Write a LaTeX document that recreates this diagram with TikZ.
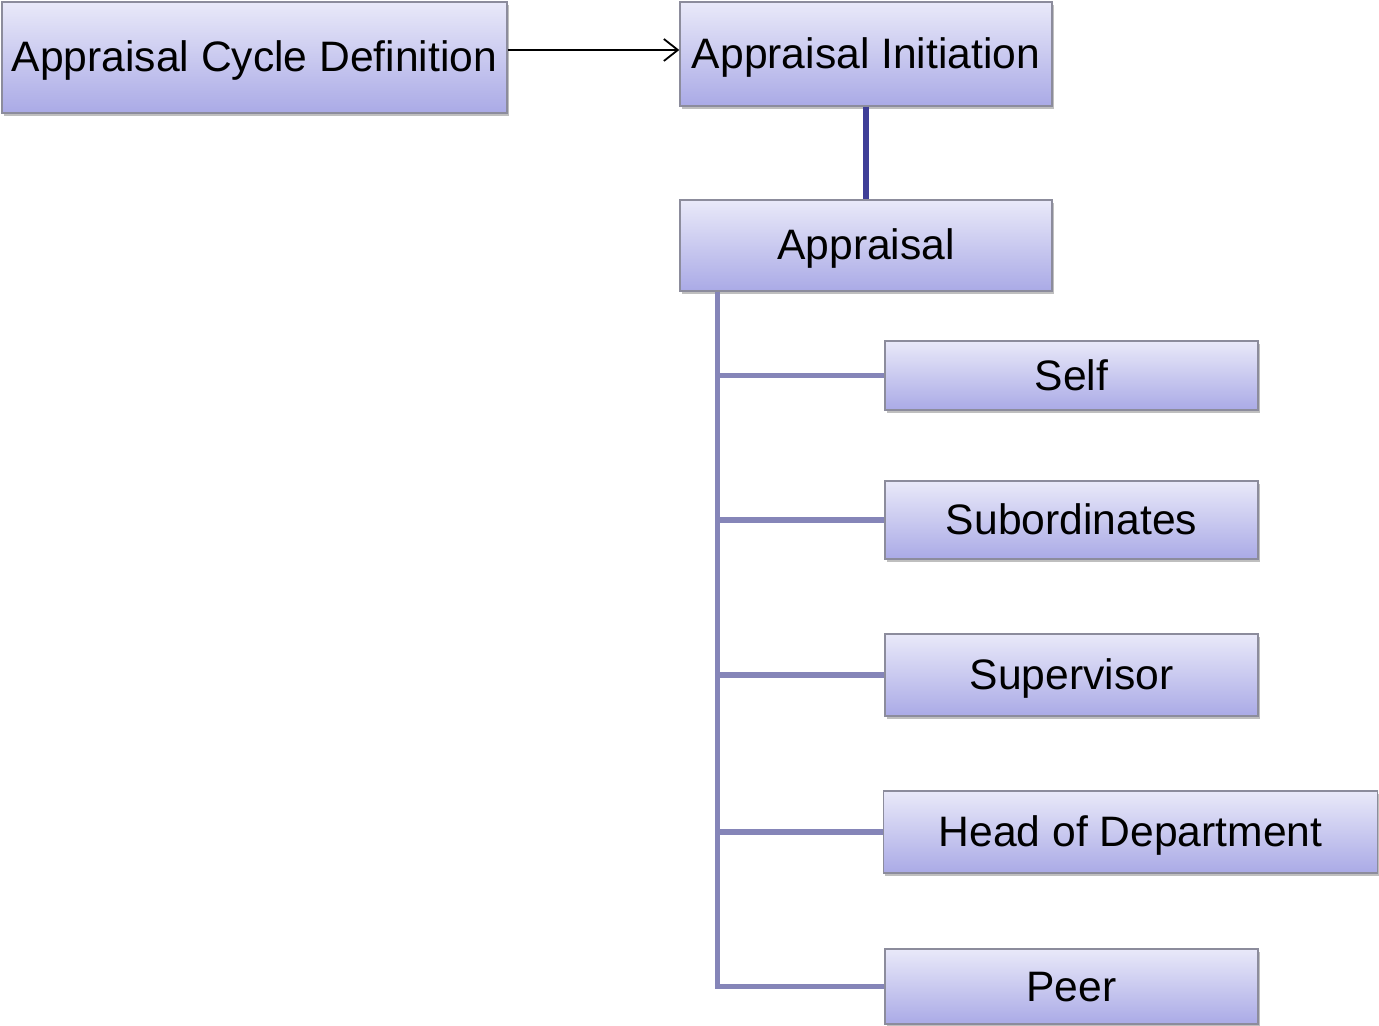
\documentclass[tikz,border=0pt]{standalone}
\usepackage{fontspec}
\setmainfont{Liberation Sans}
\usetikzlibrary{arrows.meta,shadows}
\definecolor{boxtop}{HTML}{E9E9F9}
\definecolor{boxbot}{HTML}{AAAAE6}
\definecolor{boxedge}{HTML}{8C8C9C}
\definecolor{stemblue}{HTML}{3E3E98}
\definecolor{busblue}{HTML}{8585B8}
\tikzset{
  stepbox/.style={rectangle, draw=boxedge, line width=0.7pt,
    top color=boxtop, bottom color=boxbot,
    drop shadow={shadow xshift=0.8pt, shadow yshift=-1.6pt, fill=black, opacity=0.25},
    inner sep=0pt, text height=18.5pt, text depth=4pt,
    font=\fontsize{21.3}{25}\selectfont},
  bus/.style={draw=busblue, line width=2.6pt},
  stem/.style={draw=stemblue, line width=2.8pt},
  flow/.style={draw=black, line width=0.9pt, -{Straight Barb[length=7pt,width=11pt,line width=0.9pt]}}
}
\begin{document}
\begin{tikzpicture}[x=0.5pt,y=-0.5pt]
\useasboundingbox (0,0) rectangle (1379,1026);
% process boxes
\node[stepbox, minimum width=252.5pt, minimum height=55.5pt] (cycle) at (254.5,57.5) {Appraisal Cycle Definition};
\node[stepbox, minimum width=186pt, minimum height=52pt] (init) at (866,54) {Appraisal Initiation};
\node[stepbox, minimum width=186pt, minimum height=45.5pt] (appr) at (866,245.5) {Appraisal};
% appraiser boxes
\node[stepbox, minimum width=186.5pt, minimum height=34.5pt] (self) at (1071.5,375.5) {Self};
\node[stepbox, minimum width=186.5pt, minimum height=39pt] (subs) at (1071.5,520) {Subordinates};
\node[stepbox, minimum width=186.5pt, minimum height=41pt] (sup) at (1071.5,675) {Supervisor};
\node[stepbox, minimum width=247pt, minimum height=41pt] (hod) at (1130.5,832) {Head of Department};
\node[stepbox, minimum width=186.5pt, minimum height=37.5pt] (peer) at (1071.5,986.5) {Peer};
% connectors
\draw[flow] ([yshift=3.75pt]cycle.east) -- ([yshift=3.75pt]cycle.east -| init.west);
\draw[stem] (init.south) -- (appr.south |- appr.north);
\coordinate (busTop) at ([xshift=19pt]appr.south west);
\draw[bus] (busTop) |- (peer.west);
\draw[bus] (busTop |- self.west) -- (self.west);
\draw[bus] (busTop |- subs.west) -- (subs.west);
\draw[bus] (busTop |- sup.west) -- (sup.west);
\draw[bus] (busTop |- hod.west) -- (hod.west);
\end{tikzpicture}
\end{document}
